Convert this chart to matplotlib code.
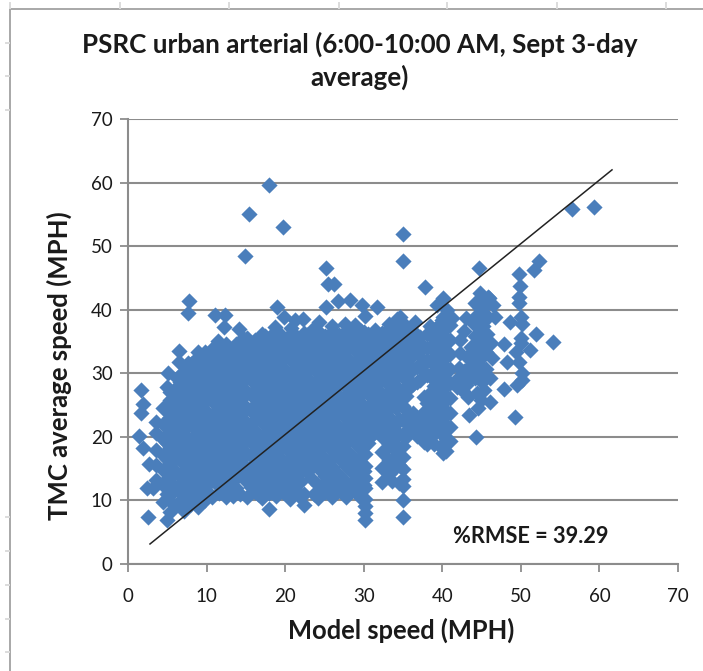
import matplotlib
matplotlib.use("Agg")
import matplotlib.pyplot as plt

# lone points around the edge of the cloud
edge_x = [1.7, 1.95, 1.7, 1.45, 1.95, 2.7, 2.4, 3.2, 2.6, 5.0, 5.1, 4.9, 6.5, 6.5, 8.9,
          18.0, 15.4, 19.7, 14.9, 35.0, 35.0, 25.2, 25.4, 26.2, 7.8, 7.6, 11.1, 12.3, 12.2, 14.1,
          18.9, 25.2, 26.7, 28.3, 29.8, 31.7, 30.2, 19.9, 21.2, 22.3, 25.9, 27.6, 34.3, 11.5, 18.7,
          20.8, 23.5, 24.3, 28.9, 33.2, 34.6, 36.5, 37.8, 40.1, 39.3, 40.6, 41.2, 38.4]
edge_y = [27.4, 25.1, 23.8, 20.1, 18.3, 15.8, 11.9, 11.9, 7.4, 6.9, 30.1, 27.9, 33.5, 31.7, 33.4,
          59.6, 55.1, 53.0, 48.4, 51.9, 47.6, 46.6, 44.1, 44.1, 41.3, 39.5, 39.1, 39.2, 37.3, 37.0,
          40.4, 40.4, 41.3, 41.5, 40.7, 40.4, 39.0, 38.8, 38.4, 38.5, 37.4, 37.8, 38.6, 35.1, 37.3,
          37.2, 36.9, 38.1, 37.6, 37.7, 38.9, 38.0, 43.6, 41.8, 40.7, 39.9, 38.7, 37.4]

# points right of the main cloud
right_x = [56.5, 59.3, 44.7, 52.3, 51.7, 49.8, 49.9, 49.7, 49.7, 43.0, 46.7, 48.6, 50.0, 50.1, 51.9,
           54.1, 50.0, 50.0, 51.1, 47.8, 49.4, 49.8, 48.3, 46.3, 42.2, 50.1, 50.1, 49.5, 47.8, 46.1,
           45.0, 43.0, 42.0, 46.1, 44.9, 44.6, 43.4, 49.3, 44.3, 43.6, 42.8, 43.9, 45.6, 46.0, 42.6,
           43.5, 44.4, 45.3, 45.8, 46.5, 43.3, 44.6, 42.3, 43.1, 43.9, 44.1, 45.2, 42.1, 43.4, 44.2,
           45.7, 46.2, 45.4, 42.9, 44.0, 41.9, 42.7, 43.8, 45.1, 44.1, 45.3, 44.3, 45.5, 44.2, 45.2,
           43.0, 43.9, 44.8, 45.6]
right_y = [55.8, 56.1, 46.6, 47.7, 46.2, 45.6, 43.7, 42.0, 41.1, 38.7, 38.8, 38.0, 38.9, 37.8, 36.2,
           34.9, 35.5, 34.7, 33.7, 34.6, 33.4, 31.8, 31.8, 32.4, 35.2, 30.0, 28.9, 28.2, 27.6, 29.3,
           28.7, 28.2, 29.2, 25.5, 25.8, 24.5, 23.5, 23.1, 19.9, 34.2, 30.4, 31.2, 30.7, 41.9, 27.2,
           29.8, 26.9, 27.3, 42.0, 40.7, 26.3, 31.6, 33.2, 32.5, 33.8, 35.9, 37.4, 30.9, 28.9, 29.3,
           36.2, 34.8, 39.4, 28.9, 31.8, 27.8, 36.6, 38.3, 30.1, 41.1, 40.5, 39.0, 38.5, 37.6, 35.4,
           30.5, 29.9, 32.9, 33.3]

# the near vertical stripes at 45 mph and the drops at 30, 35 and 40 mph
stripe45_y = [42.6, 41.4, 40.3, 39.2, 38.0, 36.9, 35.7, 34.6, 33.4, 32.3, 31.1, 30.0]
stripe30_y = [17.3, 15.4, 13.6, 11.9, 10.3, 9.1, 8.0, 6.9]
stripe35_y = [20.4, 18.6, 16.9, 14.9, 13.4, 12.2, 10.0, 7.4]
stripe40_y = [38.9, 37.1, 35.2, 33.1, 31.2, 29.4, 27.5, 25.6, 23.7, 21.9, 20.3, 18.8, 17.4]

# main cloud, one list of speeds per model speed column
cloud_x = [3.5, 4.4, 5.3, 6.2, 7.1, 8.0, 8.9, 9.8, 10.7, 11.6, 12.5, 13.4, 14.3, 15.2, 16.1, 17.0,
           17.9, 18.8, 19.7, 20.6, 21.5, 22.4, 23.3, 24.2, 25.1, 26.0, 26.9, 27.8, 28.7, 29.6,
           30.5, 31.4, 32.3, 33.2, 34.1, 35.0, 35.9, 36.8, 37.7, 38.6, 39.5]
cloud_y = [
    [13.2, 15.6, 18.0, 20.6, 22.4],
    [9.8, 12.4, 14.8, 17.1, 19.6, 22.0, 24.6],
    [8.2, 10.9, 13.5, 15.8, 18.4, 20.9, 23.2, 25.8, 27.1],
    [9.4, 12.0, 14.3, 16.9, 19.3, 21.8, 24.4, 26.7, 29.2],
    [8.3, 10.7, 13.2, 15.7, 18.1, 20.5, 23.0, 25.5, 27.9, 30.3],
    [9.5, 12.0, 14.4, 17.0, 19.4, 21.9, 24.2, 26.7, 29.1, 31.4],
    [8.9, 10.9, 13.3, 15.8, 18.2, 20.6, 23.1, 25.6, 28.0, 30.4, 32.4],
    [10.1, 12.1, 14.6, 17.0, 19.5, 21.9, 24.3, 26.8, 29.2, 31.5, 33.3],
    [10.6, 13.4, 15.8, 18.3, 20.7, 23.2, 25.6, 28.0, 30.4, 32.6, 33.8],
    [11.1, 12.3, 14.7, 17.1, 19.5, 22.0, 24.4, 26.9, 29.3, 31.6, 33.9],
    [10.5, 14.0, 15.9, 18.4, 20.8, 23.3, 25.7, 28.1, 30.5, 32.8, 34.6],
    [10.7, 13.1, 14.9, 17.2, 19.7, 22.1, 24.5, 27.0, 29.4, 31.7, 34.0],
    [11.0, 14.1, 16.1, 18.5, 20.9, 23.4, 25.8, 28.2, 30.6, 32.9, 35.1],
    [10.6, 12.9, 14.9, 17.3, 19.8, 22.2, 24.6, 27.1, 29.5, 31.9, 34.2, 35.6],
    [11.3, 13.8, 16.1, 18.6, 21.0, 23.5, 25.9, 28.3, 30.7, 33.0, 35.3],
    [10.4, 12.6, 15.0, 17.4, 19.9, 22.3, 24.7, 27.2, 29.6, 32.0, 34.4, 36.2],
    [8.6, 11.2, 13.8, 16.2, 18.7, 21.1, 23.6, 26.0, 28.4, 30.8, 33.1, 35.5],
    [10.7, 12.5, 15.1, 17.5, 20.0, 22.4, 24.8, 27.3, 29.7, 32.1, 34.5, 36.6],
    [11.4, 13.7, 16.2, 18.8, 21.2, 23.7, 26.1, 28.5, 30.9, 33.2, 35.6],
    [10.3, 12.6, 15.0, 17.6, 20.1, 22.5, 24.9, 27.4, 29.8, 32.2, 34.6, 36.1],
    [11.5, 13.9, 16.3, 18.9, 21.3, 23.8, 26.2, 28.6, 31.0, 33.4, 35.7],
    [9.3, 11.0, 15.1, 17.7, 20.2, 22.6, 25.0, 27.5, 29.9, 32.3, 34.6, 36.3],
    [13.6, 16.4, 19.0, 21.4, 23.9, 26.3, 28.7, 31.1, 33.5, 35.8],
    [10.4, 12.5, 15.2, 17.8, 20.3, 22.7, 25.1, 27.6, 30.0, 32.4, 34.7, 36.4],
    [11.3, 13.8, 16.5, 19.1, 21.5, 24.0, 26.4, 28.8, 31.2, 33.6, 35.9],
    [10.5, 12.6, 15.3, 17.9, 20.4, 22.8, 25.2, 27.7, 30.1, 32.5, 34.8, 36.5],
    [11.6, 14.0, 16.6, 19.2, 21.6, 24.1, 26.5, 28.9, 31.3, 33.7, 36.0],
    [10.6, 12.7, 15.4, 18.0, 20.5, 22.9, 25.3, 27.8, 30.2, 32.6, 34.9, 36.6],
    [11.7, 14.1, 16.7, 19.3, 21.7, 24.2, 26.6, 29.0, 31.4, 33.8, 36.1],
    [10.4, 12.8, 15.5, 18.1, 20.6, 23.0, 25.4, 27.9, 30.3, 32.7, 35.0, 36.7],
    [19.0, 21.8, 24.3, 26.7, 29.1, 31.5, 33.9, 36.2],
    [20.7, 23.1, 25.5, 28.0, 30.4, 32.8, 35.1, 36.8],
    [12.9, 15.1, 17.6, 19.9, 21.9, 24.4, 26.8, 29.2, 31.6, 34.0, 36.3],
    [14.2, 16.4, 18.8, 20.8, 23.2, 25.6, 28.1, 30.5, 32.9, 35.2, 37.0],
    [15.2, 17.7, 20.0, 22.0, 24.5, 26.9, 29.3, 31.7, 34.1, 36.4],
    [22.6, 24.9, 27.3, 29.8, 32.2, 34.6, 36.9],
    [21.0, 23.3, 27.8, 30.2, 32.5, 34.4],
    [20.1, 22.5, 28.7, 31.0, 33.3, 35.6],
    [19.2, 21.6, 23.9, 26.2, 30.2, 31.9, 34.1],
    [19.9, 22.4, 24.8, 27.1, 29.4, 31.7, 33.9, 36.0],
    [21.3, 23.7, 26.0, 28.3, 30.6, 32.9, 35.2, 37.5],
]

# second set of columns sitting between the first, closes most of the gaps
fill_x = [4.9, 6.6, 8.4, 10.2, 12.0, 13.8, 15.6, 17.4, 19.2, 21.0, 22.8, 24.6, 26.4, 28.2, 30.0,
          31.8, 33.6, 35.4, 37.2, 39.0, 40.5]
fill_y = [
    [11.0, 13.4, 16.5, 19.0, 21.5, 24.0],
    [9.6, 11.5, 14.0, 16.4, 19.0, 21.2, 23.9, 26.1, 28.6],
    [10.2, 13.0, 15.2, 17.6, 20.0, 22.6, 25.1, 27.4, 29.8, 31.9],
    [11.3, 13.7, 16.0, 18.7, 21.0, 23.5, 26.0, 28.4, 30.9, 32.8],
    [12.8, 15.2, 17.9, 20.1, 22.7, 25.1, 27.6, 29.9, 32.0, 34.2],
    [11.9, 15.7, 18.0, 20.3, 22.9, 25.3, 27.7, 30.0, 32.4, 34.6],
    [12.1, 14.6, 17.1, 19.6, 22.0, 24.4, 26.7, 29.1, 31.5, 33.9],
    [11.9, 14.3, 16.8, 19.2, 21.8, 24.2, 26.6, 29.0, 31.4, 33.7, 35.8],
    [12.0, 14.5, 16.9, 19.4, 21.9, 24.3, 26.8, 29.2, 31.6, 34.0, 36.3],
    [12.2, 14.7, 17.0, 19.5, 22.0, 24.5, 26.9, 29.3, 31.7, 34.1],
    [14.4, 16.9, 19.4, 21.9, 24.4, 26.8, 29.3, 31.7, 34.1, 36.0],
    [12.2, 14.6, 17.1, 19.6, 22.1, 24.5, 26.9, 29.4, 31.8, 34.2, 36.2],
    [12.3, 14.7, 17.2, 19.7, 22.2, 24.6, 27.0, 29.4, 31.9, 34.3, 36.4],
    [12.2, 14.8, 17.3, 19.8, 22.3, 24.7, 27.1, 29.5, 32.0, 34.4, 36.3],
    [12.4, 14.6, 17.3, 19.8, 22.3, 24.7, 27.2, 29.6, 32.0, 34.4, 36.5],
    [21.1, 23.6, 26.0, 28.5, 30.9, 33.3, 35.7],
    [13.0, 16.5, 19.4, 22.5, 24.9, 27.4, 29.8, 32.2, 34.6, 37.0],
    [20.0, 22.3, 24.2, 26.4, 28.9, 31.2, 33.5, 35.8, 37.5],
    [20.3, 22.6, 28.9, 31.5, 33.6, 35.7],
    [18.9, 21.2, 23.4, 25.7, 28.0, 30.3, 32.5, 34.7, 36.8],
    [17.8, 19.6, 21.7, 24.0, 26.3, 28.6, 30.9, 33.2, 35.5, 37.8, 39.2],
]

# third set, the solid part of the cloud has no gaps left in the reference
solid_x = [5.8, 7.6, 9.3, 11.1, 12.9, 14.7, 16.5, 18.3, 20.1, 21.9, 23.7, 25.5, 27.3, 29.1, 30.9,
           32.7, 34.5, 36.3, 38.1, 39.9, 41.0]
solid_y = [
    [9.3, 12.2, 14.7, 17.3, 19.9, 22.4, 24.9, 27.4],
    [9.4, 11.9, 14.5, 16.9, 19.2, 21.7, 24.3, 26.7, 29.2, 31.6],
    [10.4, 12.7, 15.1, 17.6, 20.2, 22.6, 25.0, 27.5, 29.9, 32.1],
    [12.9, 15.4, 16.7, 19.0, 21.4, 23.9, 26.3, 28.7, 31.1, 33.4],
    [11.8, 13.5, 16.4, 18.8, 21.3, 23.7, 26.2, 28.6, 31.0, 33.3],
    [15.2, 17.7, 19.1, 21.5, 24.0, 26.4, 28.9, 31.2, 33.5, 35.4],
    [11.0, 13.2, 15.6, 18.0, 20.5, 22.9, 25.3, 27.8, 30.2, 32.6, 34.9],
    [11.4, 13.0, 15.7, 18.1, 20.6, 23.1, 25.5, 27.9, 30.3, 32.7, 35.0],
    [11.0, 13.3, 15.8, 18.3, 20.7, 23.2, 25.6, 28.0, 30.4, 32.8, 35.1],
    [10.6, 12.9, 15.5, 18.2, 20.7, 23.1, 25.6, 28.0, 30.5, 32.9, 35.2],
    [11.0, 15.6, 18.3, 20.8, 23.3, 25.7, 28.2, 30.6, 33.0, 35.4],
    [11.8, 13.3, 15.9, 18.5, 20.9, 23.4, 25.8, 28.3, 30.7, 33.1, 35.5],
    [11.4, 13.4, 16.0, 18.6, 21.1, 23.5, 25.9, 28.4, 30.8, 33.2, 35.6],
    [11.1, 13.5, 16.1, 18.7, 21.1, 23.6, 26.0, 28.5, 30.9, 33.3, 35.7],
    [20.2, 22.6, 25.1, 27.5, 29.9, 32.3, 34.6],
    [21.6, 23.9, 26.4, 28.8, 31.2, 33.6, 36.0],
    [12.8, 15.6, 18.1, 20.4, 22.8, 25.2, 27.6, 30.0, 32.4, 34.8, 36.9],
    [21.4, 23.7, 28.3, 30.6, 32.9, 35.2, 36.7],
    [18.9, 21.1, 23.2, 25.4, 29.7, 31.9, 34.0, 36.2],
    [18.2, 20.5, 22.8, 25.1, 27.3, 29.6, 31.9, 34.2, 36.5, 38.4],
    [19.3, 21.5, 23.8, 26.1, 28.4, 30.7, 33.0, 35.3, 37.6],
]

ticks = [0, 10, 20, 30, 40, 50, 60, 70]
fit_x = [2.8, 61.6]
fit_y = [3.15, 62.0]

title = "PSRC urban arterial (6:00-10:00 AM, Sept 3-day\naverage)"
x_label = "Model speed (MPH)"
y_label = "TMC average speed (MPH)"
rmse_label = "%RMSE = 39.29"

plt.rcParams["font.family"] = ["Lato", "DejaVu Sans"]
text_col = "#1a1a1a"
grid_col = "#8c8c8c"
blue = "#4a7ebb"

W, H = 703, 671
fig = plt.figure(figsize=(W / 100, H / 100), dpi=100)
ax = fig.add_axes([128 / W, (H - 564) / H, 550 / W, 445 / H])


def draw(xs, ys):
    ax.scatter(xs, ys, marker="D", s=68, color=blue, linewidths=0, zorder=3, clip_on=False)


draw(edge_x, edge_y)
draw(right_x, right_y)
draw([44.8] * len(stripe45_y), stripe45_y)
draw([30.1] * len(stripe30_y), stripe30_y)
draw([35.0] * len(stripe35_y), stripe35_y)
draw([40.1] * len(stripe40_y), stripe40_y)
for cx, cy in zip(cloud_x, cloud_y):
    draw([cx] * len(cy), cy)
for cx, cy in zip(fill_x, fill_y):
    draw([cx] * len(cy), cy)
for cx, cy in zip(solid_x, solid_y):
    draw([cx] * len(cy), cy)

ax.plot(fit_x, fit_y, color="#222222", lw=1.1, zorder=4, clip_on=False)

ax.set_xlim(0, 70)
ax.set_ylim(0, 70)
ax.set_xticks(ticks)
ax.set_yticks(ticks)
ax.grid(axis="y", color=grid_col, lw=1.5, zorder=1)
ax.set_axisbelow(True)
for side in ["top", "right"]:
    ax.spines[side].set_visible(False)
for side in ["left", "bottom"]:
    ax.spines[side].set_color(grid_col)
    ax.spines[side].set_linewidth(1.5)
ax.tick_params(length=5.5, width=1.3, color=grid_col, labelsize=13.5, labelcolor=text_col)
ax.tick_params(axis="x", pad=12)
ax.tick_params(axis="y", pad=5.5)

ax.text(51.2, 4.25, rmse_label, ha="center", va="center", fontsize=15.7, fontweight="bold", color=text_col)
fig.text(360 / W, (H - 61) / H, title, ha="center", va="center", fontsize=18.7, fontweight="bold",
         color=text_col, linespacing=1.35)
fig.text(401 / W, (H - 630) / H, x_label, ha="center", va="center", fontsize=18.4, fontweight="bold",
         color=text_col)
fig.text(59 / W, (H - 366) / H, y_label, ha="center", va="center", rotation=90, fontsize=18.5,
         fontweight="bold", color=text_col)

# sheet frame behind the chart, with the cell marks of the worksheet
frame = "#a8a8a8"
cell = "#dcdcdc"
fig.add_artist(plt.Line2D([10 / W, 10 / W], [0, (H - 9) / H], color=frame, lw=1.4))
fig.add_artist(plt.Line2D([10 / W, 1], [(H - 9) / H, (H - 9) / H], color=frame, lw=1.4))
for px in [10, 120, 229, 339, 447, 557, 666]:
    fig.add_artist(plt.Line2D([px / W, px / W], [(H - 3) / H, (H - 8) / H], color=cell, lw=1.4))
for py in [43, 76, 110, 517, 551, 585, 619, 652]:
    fig.add_artist(plt.Line2D([6 / W, 9 / W], [(H - py) / H, (H - py) / H], color=cell, lw=1.4))

fig.savefig("out.png", dpi=100)
